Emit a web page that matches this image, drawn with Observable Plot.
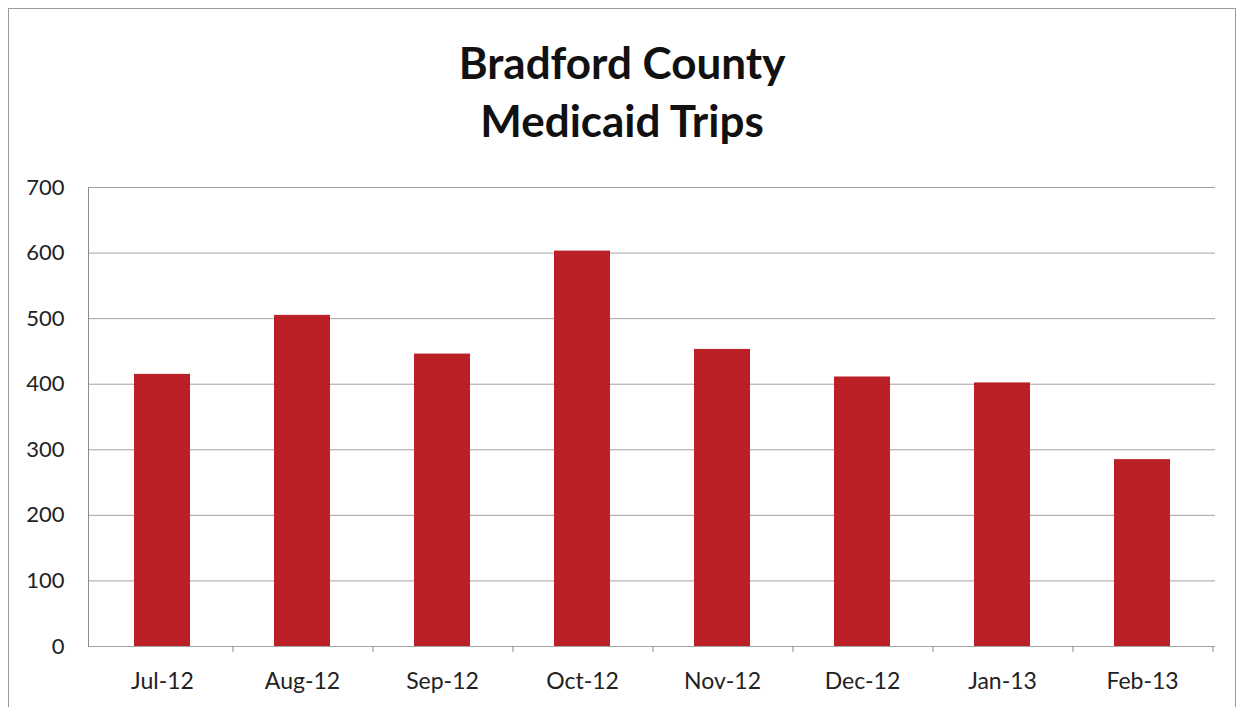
<!DOCTYPE html>
<html><head><meta charset="utf-8">
<script src="https://cdn.jsdelivr.net/npm/d3@7"></script>
<script src="https://cdn.jsdelivr.net/npm/@observablehq/plot@0.6"></script>
<style>
html,body{margin:0;padding:0;background:#fff;}
#frame{position:absolute;left:8px;top:8px;width:1228px;height:700px;border:1px solid #9a9a9a;border-bottom:none;box-sizing:border-box;}
#title{position:absolute;left:0;top:0;width:1244px;text-align:center;font-family:Lato,"Open Sans",sans-serif;font-weight:bold;font-size:44px;line-height:58px;padding-top:33px;color:#111;}
#chart{position:absolute;left:0;top:149px;}
</style></head><body>
<div id="frame"></div>
<div id="title">Bradford County<br>Medicaid Trips</div>
<div id="chart"></div>
<script>
const months = ["Jul-12","Aug-12","Sep-12","Oct-12","Nov-12","Dec-12","Jan-13","Feb-13"];
const trips = [415, 505, 446, 603, 453, 411, 402, 285];
const yTicks = [0,100,200,300,400,500,600,700];

const data = months.map((m,i)=>({month:m, trips:trips[i]}));
const W = 1244, H = 558, mL = 88, mR = 29, mT = 38, mB = 61;
const step = (W - mL - mR) / months.length;

const chart = Plot.plot({
  width: W, height: H,
  marginLeft: mL, marginRight: mR, marginTop: mT, marginBottom: mB,
  style: {fontFamily: "Lato, 'Open Sans', sans-serif", fontSize: "22px", color: "#222", background: "transparent"},
  x: {domain: months, paddingInner: 0.6, paddingOuter: 0.3, label: null},
  y: {domain: [0,700], ticks: yTicks, label: null},
  marks: [
    Plot.gridY(yTicks, {stroke: "#8c8c8c", strokeOpacity: 0.8, strokeWidth: 1}),
    Plot.frame({anchor: "left", stroke: "#8c8c8c"}),
    Plot.ruleX(months, {x: d => d, dx: step/2, y1: 0, y2: -9, stroke: "#8c8c8c"}),
    Plot.barY(data, {x: "month", y: "trips", fill: "#bb2026"}),
    Plot.axisY(yTicks, {tickSize: 0, tickPadding: 24, fontSize: 22, fill: "#222"}),
    Plot.axisX({tickSize: 0, tickPadding: 26, fontSize: 23, fill: "#222"})
  ]
});
document.getElementById("chart").appendChild(chart);
</script>
</body></html>
